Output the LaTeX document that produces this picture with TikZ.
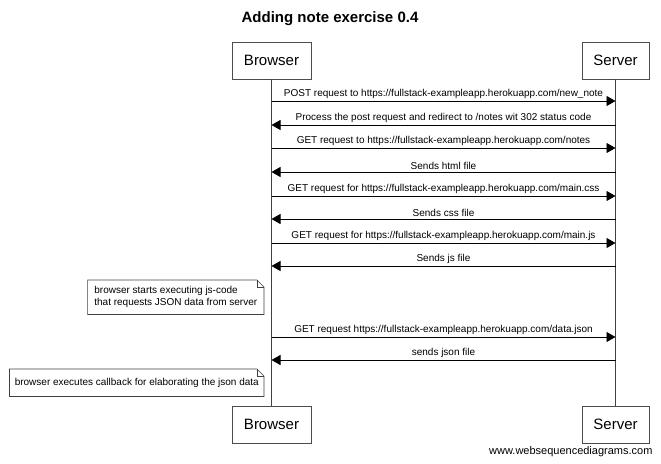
\documentclass[tikz,border=0pt]{standalone}
\usepackage{fontspec}
\setmainfont{Liberation Sans}
\usetikzlibrary{shapes, arrows.meta, positioning, calc}

\begin{document}
\begin{tikzpicture}[x=1pt, y=-1pt,
    every node/.style={font=\fontsize{10}{12}\selectfont},
    >={Triangle[length=9pt, width=10pt]},
    actor/.style={rectangle, draw=black!70, line width=0.8pt, fill=white, minimum height=37pt, inner xsep=11pt, font=\fontsize{15}{18}\selectfont},
    life/.style={draw=black!75, line width=0.8pt},
    msg/.style={draw, ->, line width=0.8pt},
    lbl/.style={above, inner sep=2pt},
    note/.style={align=left, inner sep=5pt},
    notebox/.style={draw=black!75, line width=0.7pt}]

\useasboundingbox (0,0) rectangle (661,463);

% Title
\node[font=\bfseries\fontsize{15}{18}\selectfont] (title) at (330,19) {Adding note exercise 0.4};

% Participants
\node[actor, minimum width=79pt] (browser) at (271.5,60.5) {Browser};
\node[actor, minimum width=67pt] (server) at (615.5,60.5) {Server};
\node[actor, minimum width=79pt] (browserend) at (271.5,424.5) {Browser};
\node[actor, minimum width=67pt] (serverend) at (615.5,424.5) {Server};

% Lifelines
\draw[life] (browser) -- (browserend);
\draw[life] (server) -- (serverend);

% Message points
\foreach \i/\y in {1/101, 2/125, 3/148, 4/172, 5/196, 6/219, 7/243, 8/266, 9/337, 10/360}{
  \coordinate (b\i) at (271.5,\y);
  \coordinate (s\i) at (615.5,\y);
}

% Messages
\draw[msg] (b1) -- node[lbl] {POST request to https://fullstack-exampleapp.herokuapp.com/new\_note} (s1);
\draw[msg] (s2) -- node[lbl] {Process the post request and redirect to /notes wit 302 status code} (b2);
\draw[msg] (b3) -- node[lbl] {GET request to https://fullstack-exampleapp.herokuapp.com/notes} (s3);
\draw[msg] (s4) -- node[lbl] {Sends html file} (b4);
\draw[msg] (b5) -- node[lbl] {GET request for https://fullstack-exampleapp.herokuapp.com/main.css} (s5);
\draw[msg] (s6) -- node[lbl] {Sends css file} (b6);
\draw[msg] (b7) -- node[lbl] {GET request for https://fullstack-exampleapp.herokuapp.com/main.js} (s7);
\draw[msg] (s8) -- node[lbl] {Sends js file} (b8);
\draw[msg] (b9) -- node[lbl] {GET request https://fullstack-exampleapp.herokuapp.com/data.json} (s9);
\draw[msg] (s10) -- node[lbl] {sends json file} (b10);

% Notes
\node[note, anchor=north east, minimum height=34pt, minimum width=176pt] (note1) at (264,280) {browser starts executing js-code\\that requests JSON data from server};
\node[note, anchor=north east, minimum height=27pt] (note2) at (264,369) {browser executes callback for elaborating the json data};
\foreach \n in {note1, note2}{
  \draw[notebox] (\n.south west) -- (\n.north west) -- ([xshift=-7pt]\n.north east) -- ([yshift=-7pt]\n.north east) -- (\n.south east) -- cycle;
  \draw[notebox] ([xshift=-7pt]\n.north east) -- ++(0,7) -- ([yshift=-7pt]\n.north east);
}

% Credit
\node[anchor=east, font=\fontsize{11}{13}\selectfont] (credit) at (656,452) {www.websequencediagrams.com};

\end{tikzpicture}
\end{document}
